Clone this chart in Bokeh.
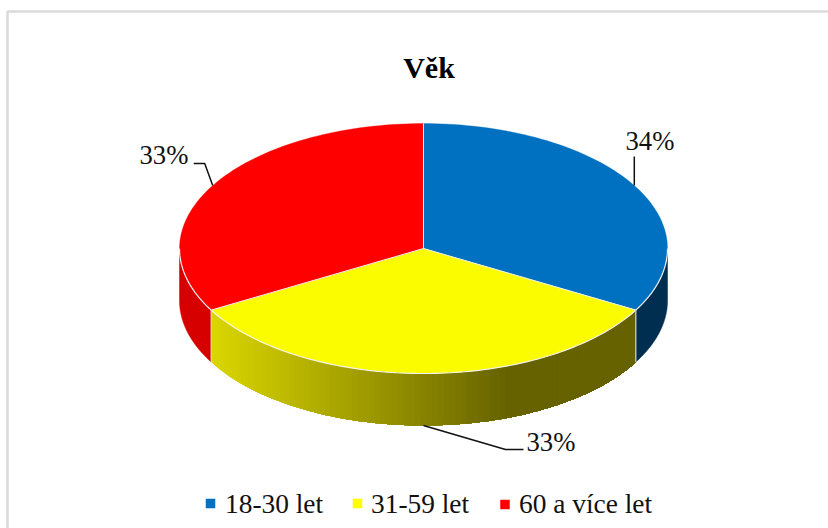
import numpy as np
from bokeh.plotting import figure
from bokeh.models import Range1d
from bokeh.core.properties import value
from bokeh.embed import file_html
from bokeh.resources import INLINE

categories = ["18-30 let", "31-59 let", "60 a více let"]
shares = [33.2, 33.6, 33.2]
share_labels = ["34%", "33%", "33%"]
title = "Věk"
top_colors = ["#0070C0", "#FCFC00", "#FF0000"]
side_colors = ["#002E50", None, "#D60000"]

FONT = value("Liberation Serif")
W, H = 828, 528
CX, CY, RX, RY, DEPTH = 423.0, 248.0, 244.0, 125.0, 52.0


def pt(t_deg, dy=0.0):
    t = np.radians(t_deg)
    return CX + RX * np.sin(t), CY - RY * np.cos(t) + dy


p = figure(width=W, height=H, output_backend="svg", toolbar_location=None,
           x_range=Range1d(0, W), y_range=Range1d(H, 0),
           min_border=0, outline_line_color=None, background_fill_color="white",
           border_fill_color="white")
p.axis.visible = False
p.grid.visible = False

# chart frame (left and top edges only are visible in the reference)
p.line([7, 7, W], [H, 11, 11], line_color="#DADADA", line_width=2.5)

cum = np.cumsum([0] + shares) / sum(shares) * 360.0
t1, t2 = cum[1], cum[2]
mids = (cum[:-1] + cum[1:]) / 2


def side(a, b, n):
    ts = np.linspace(a, b, n)
    x, y = pt(ts)
    _, y2 = pt(ts, DEPTH)
    return np.r_[x, x[::-1]], np.r_[y, y2[::-1]]


# blue and red side walls
sx, sy = side(90, t1, 40)
p.patch(sx, sy, fill_color=side_colors[0], line_color=side_colors[0], line_width=0.5)
sx, sy = side(t2, 270, 40)
p.patch(sx, sy, fill_color=side_colors[2], line_color=side_colors[2], line_width=0.5)

# yellow wall with horizontal gradient, painted left to right so that no seams show
edges = np.linspace(t2, t1, 90)
xs, ys, cols = [], [], []
xl, _ = pt(t2)
for k, a in enumerate(edges[:-1]):
    sx, sy = side(a, t1, max(2, 90 - k))
    xm, _ = pt(a)
    f = min(1.0, max(0.0, (xm - xl) / (505.0 - xl)))
    r = int(round(218 + (102 - 218) * f))
    g = int(round(214 + (98 - 214) * f))
    xs.append(list(sx)); ys.append(list(sy)); cols.append(f"#{r:02X}{g:02X}00")
p.patches(xs, ys, fill_color=cols, line_color=None)

# top faces
for i, c in enumerate(top_colors):
    ts = np.linspace(cum[i], cum[i + 1], 80)
    x, y = pt(ts)
    p.patch(np.r_[CX, x], np.r_[CY, y], fill_color=c, line_color=c, line_width=0.3)

# pale edges
EDGE = "#F2F2F2"
for t in cum[:-1]:
    x, y = pt(t)
    p.line([CX, x], [CY, y], line_color=EDGE, line_width=1.0)
ts = np.linspace(90, 270, 160)
x, y = pt(ts)
p.line(x, y, line_color=EDGE, line_width=1.2)
for t in (t1, t2):
    x, y = pt(t)
    p.line([x, x], [y, y + DEPTH], line_color="#D8D8C8", line_width=1.2)

# leader lines
ax, ay = pt(mids[0])
p.line([ax, ax], [ay, ay - 29], line_color="#111111", line_width=1.5)
ax, ay = pt(mids[1], DEPTH)
p.line([ax, ax + 82, ax + 100], [ay, ay + 24, ay + 24], line_color="#111111", line_width=1.5)
ax, ay = pt(mids[2])
p.line([ax, ax - 8, ax - 19], [ay, ay - 22, ay - 22], line_color="#111111", line_width=1.5)

# data labels
p.text([625, 526, 139], [140, 441, 154], text=share_labels, text_font=FONT,
       text_font_size="26.7px", text_color="#111111", text_align="left",
       text_baseline="alphabetic")

# title
p.text([428.5], [67], text=[title], text_font=FONT, text_font_size="30px",
       text_font_style="bold", text_color="#000000", text_align="center",
       text_baseline="alphabetic")

# legend
p.scatter([210, 357, 504.5], [503, 503, 504], marker="square", size=9.5,
          fill_color=["#0070C0", "#FFFF00", "#FF0000"], line_color=None)
p.text([224.5, 370.5, 518.5], [503, 503, 503], text=categories, text_font=FONT,
       text_font_size="27.4px", text_color="#111111", text_align="left",
       text_baseline="alphabetic")

open("out.html", "w").write(file_html(p, INLINE))
